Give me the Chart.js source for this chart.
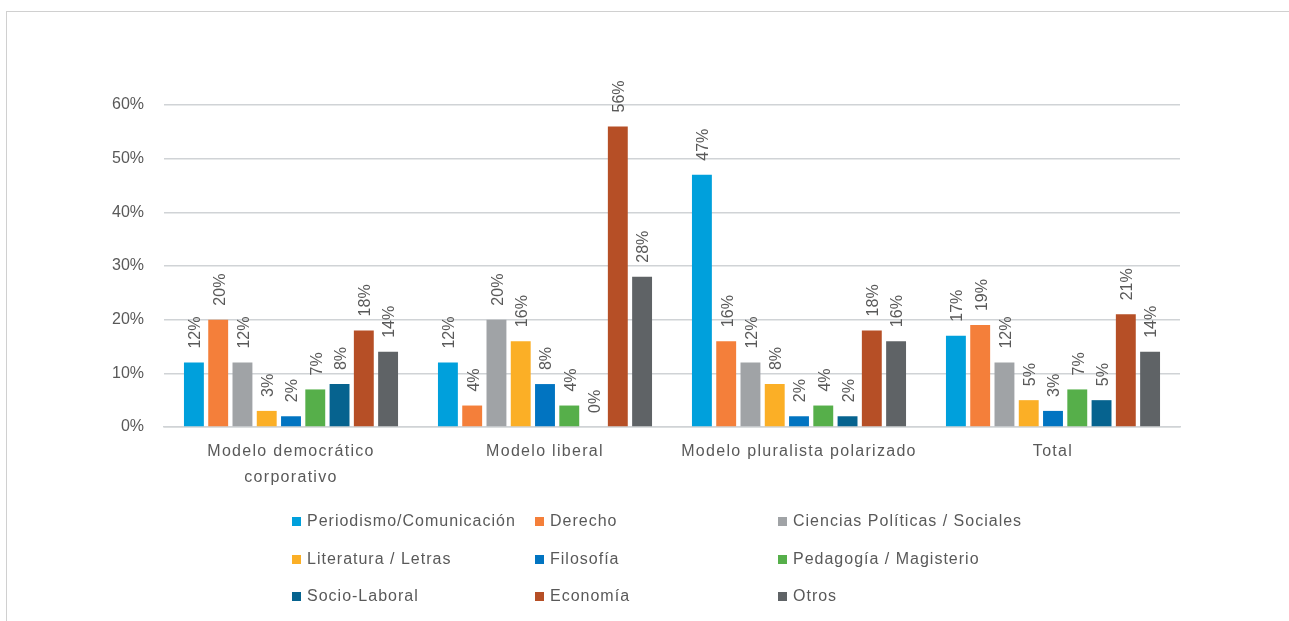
<!DOCTYPE html>
<html>
<head>
<meta charset="utf-8">
<script src="https://cdn.jsdelivr.net/npm/chart.js@4.4.1/dist/chart.umd.min.js"></script>
<style>
  body { margin: 0; background: #fff; font-family: "Liberation Sans", Arial, sans-serif; }
  #wrap { position: relative; width: 1289px; height: 621px; overflow: hidden; }
  #frame { position: absolute; left: 6px; top: 11px; width: 1400px; height: 700px; border-top: 1.5px solid #d0d0d0; border-left: 1.5px solid #d0d0d0; }
  canvas { position: absolute; left: 0; top: 0; }
  .leg { position: absolute; font-size: 16px; color: #595959; white-space: nowrap; line-height: 20px; letter-spacing: 1px; }
  .leg span { display: inline-block; width: 9px; height: 9px; margin-right: 6px; vertical-align: 0px; }
</style>
</head>
<body>
<div id="wrap">
  <div id="frame"></div>
  <canvas id="myChart" width="1289" height="621"></canvas>
  <div id="legend"></div>
</div>
<script>
var categories = [["Modelo democrático", "corporativo"], "Modelo liberal", "Modelo pluralista polarizado", "Total"];

var seriesNames = ["Periodismo/Comunicación", "Derecho", "Ciencias Políticas / Sociales",
    "Literatura / Letras", "Filosofía", "Pedagogía / Magisterio",
    "Socio-Laboral", "Economía", "Otros"];

var periodismo = [12, 12, 47, 17];
var derecho = [20, 4, 16, 19];
var ciencias = [12, 20, 12, 12];
var literatura = [3, 16, 8, 5];
var filosofia = [2, 8, 2, 3];
var pedagogia = [7, 4, 4, 7];
var socioLaboral = [8, 0, 2, 5];
var economia = [18, 56, 18, 21];
var otros = [14, 28, 16, 14];

var yTicks = [0, 10, 20, 30, 40, 50, 60];

var colors = ['#00a0dc', '#f47f3a', '#a0a3a6', '#fbaf26', '#0174c1', '#56af4a', '#06638f', '#b64f26', '#5f6366'];
var allValues = [periodismo, derecho, ciencias, literatura, filosofia, pedagogia, socioLaboral, economia, otros];

var textColor = '#595959';
var fontFamily = '"Liberation Sans", Arial, sans-serif';

var datasets = seriesNames.map(function (name, i) {
    return {
        label: name,
        data: allValues[i],
        backgroundColor: colors[i],
        borderWidth: 0,
        categoryPercentage: 0.86,
        barPercentage: 0.82
    };
});

// labels drawn vertically above every bar
var barLabels = {
    id: 'barLabels',
    afterDatasetsDraw: function (chart) {
        var ctx = chart.ctx;
        ctx.save();
        ctx.fillStyle = textColor;
        ctx.font = '16px ' + fontFamily;
        ctx.textAlign = 'left';
        ctx.textBaseline = 'middle';
        chart.data.datasets.forEach(function (ds, i) {
            chart.getDatasetMeta(i).data.forEach(function (bar, j) {
                ctx.save();
                ctx.translate(bar.x + 2, bar.y - 14);
                ctx.rotate(-Math.PI / 2);
                ctx.fillText(ds.data[j] + '%', 0, 0);
                ctx.restore();
            });
        });
        ctx.restore();
    }
};

var ctx = document.getElementById('myChart').getContext('2d');
var chart = new Chart(ctx, {
    type: 'bar',
    data: {
        labels: categories,
        datasets: datasets
    },
    options: {
        responsive: false,
        animation: false,
        layout: { padding: { left: 0, right: 109, top: 105, bottom: 0 } },
        plugins: {
            legend: { display: false },
            tooltip: { enabled: false }
        },
        scales: {
            x: {
                grid: { display: false, drawTicks: false },
                border: { display: true, color: '#d0d3d6', width: 1.5 },
                ticks: { color: textColor, font: { size: 16, family: fontFamily, lineHeight: 1.6 }, padding: 12, maxRotation: 0, autoSkip: false },
                afterFit: function (scale) { scale.height = 194; }
            },
            y: {
                min: 0,
                max: 60,
                afterBuildTicks: function (scale) {
                    scale.ticks = yTicks.map(function (v) { return { value: v }; });
                },
                grid: { color: '#d0d3d6', lineWidth: 1.5, drawTicks: false },
                border: { display: false },
                ticks: {
                    color: textColor,
                    font: { size: 16, family: fontFamily },
                    padding: 20,
                    callback: function (v) { return v + '%'; }
                },
                afterFit: function (scale) { scale.width = 164; }
            }
        }
    },
    plugins: [barLabels]
});

// category labels are spaced out a little in the original
var xScale = chart.scales.x;
var origDrawLabels = xScale.drawLabels;
xScale.drawLabels = function (area) {
    this.ctx.letterSpacing = '1.3px';
    origDrawLabels.call(this, area);
    this.ctx.letterSpacing = '0px';
};
chart.draw();

// legend in three columns, like the original
var legCols = [292, 535, 778];
var legRows = [521, 559, 596];
var legend = document.getElementById('legend');
seriesNames.forEach(function (name, i) {
    var d = document.createElement('div');
    d.className = 'leg';
    d.style.left = legCols[i % 3] + 'px';
    d.style.top = (legRows[Math.floor(i / 3)] - 10) + 'px';
    d.innerHTML = '<span style="background:' + colors[i] + '"></span>' + name;
    legend.appendChild(d);
});
</script>
</body>
</html>
